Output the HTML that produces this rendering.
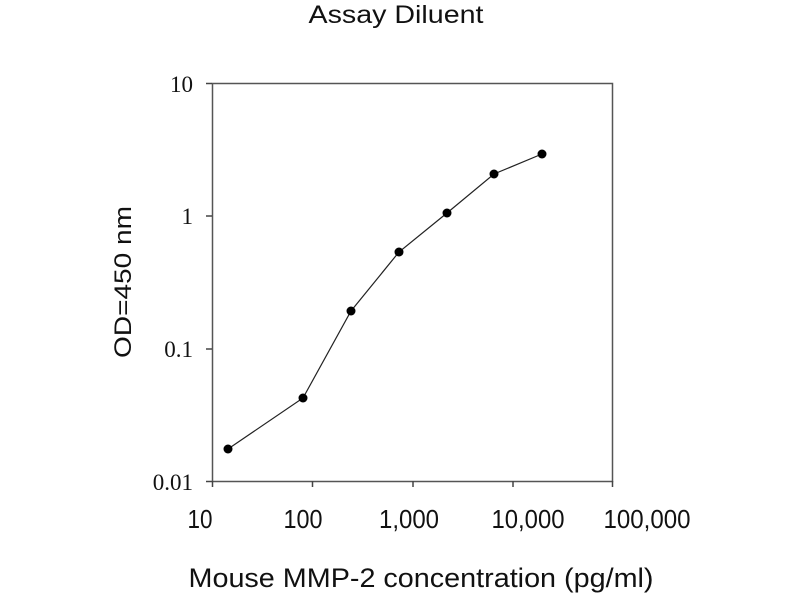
<!DOCTYPE html>
<html><head><style>body{margin:0;background:#fff}</style></head><body>
<svg width="800" height="600" xmlns="http://www.w3.org/2000/svg">
<rect width="800" height="600" fill="#fff"/>
<text x="396" y="23" font-family="Liberation Sans, sans-serif" font-size="25" text-anchor="middle" fill="#111" textLength="175" lengthAdjust="spacingAndGlyphs">Assay Diluent</text>
<rect x="212.5" y="83.5" width="400" height="398" fill="none" stroke="#555" stroke-width="1.5"/>
<g stroke="#444" stroke-width="1.5">
<line x1="206" y1="83.5" x2="212" y2="83.5"/><line x1="206" y1="216" x2="212" y2="216"/><line x1="206" y1="349" x2="212" y2="349"/><line x1="206" y1="481.5" x2="212" y2="481.5"/>
<line x1="212.5" y1="481" x2="212.5" y2="487"/><line x1="312.5" y1="481" x2="312.5" y2="487"/><line x1="413" y1="481" x2="413" y2="487"/><line x1="513" y1="481" x2="513" y2="487"/><line x1="612.5" y1="481" x2="612.5" y2="487"/>
</g>
<g font-family="Liberation Serif, serif" font-size="23" text-anchor="end" fill="#111">
<text x="193" y="92">10</text><text x="193" y="224">1</text><text x="193" y="357">0.1</text><text x="193" y="490">0.01</text>
</g>
<g font-family="Liberation Sans, sans-serif" font-size="26" text-anchor="middle" fill="#111">
<text x="200" y="528" textLength="25" lengthAdjust="spacingAndGlyphs">10</text>
<text x="303" y="528" textLength="39" lengthAdjust="spacingAndGlyphs">100</text>
<text x="409" y="528" textLength="60" lengthAdjust="spacingAndGlyphs">1,000</text>
<text x="528" y="528" textLength="73" lengthAdjust="spacingAndGlyphs">10,000</text>
<text x="647" y="528" textLength="87" lengthAdjust="spacingAndGlyphs">100,000</text>
<text x="421" y="587" font-size="27" textLength="465" lengthAdjust="spacingAndGlyphs">Mouse MMP-2 concentration (pg/ml)</text>
<text transform="translate(131,282) rotate(-90)" font-size="24" textLength="152" lengthAdjust="spacingAndGlyphs">OD=450 nm</text>
</g>
<polyline points="228,449 303,398 351,311 399,252 447,213 494,174 542,154" fill="none" stroke="#222" stroke-width="1.2"/>
<g fill="#000">
<circle cx="228" cy="449" r="4.5"/><circle cx="303" cy="398" r="4.5"/><circle cx="351" cy="311" r="4.5"/><circle cx="399" cy="252" r="4.5"/><circle cx="447" cy="213" r="4.5"/><circle cx="494" cy="174" r="4.5"/><circle cx="542" cy="154" r="4.5"/>
</g>
</svg>
</body></html>
